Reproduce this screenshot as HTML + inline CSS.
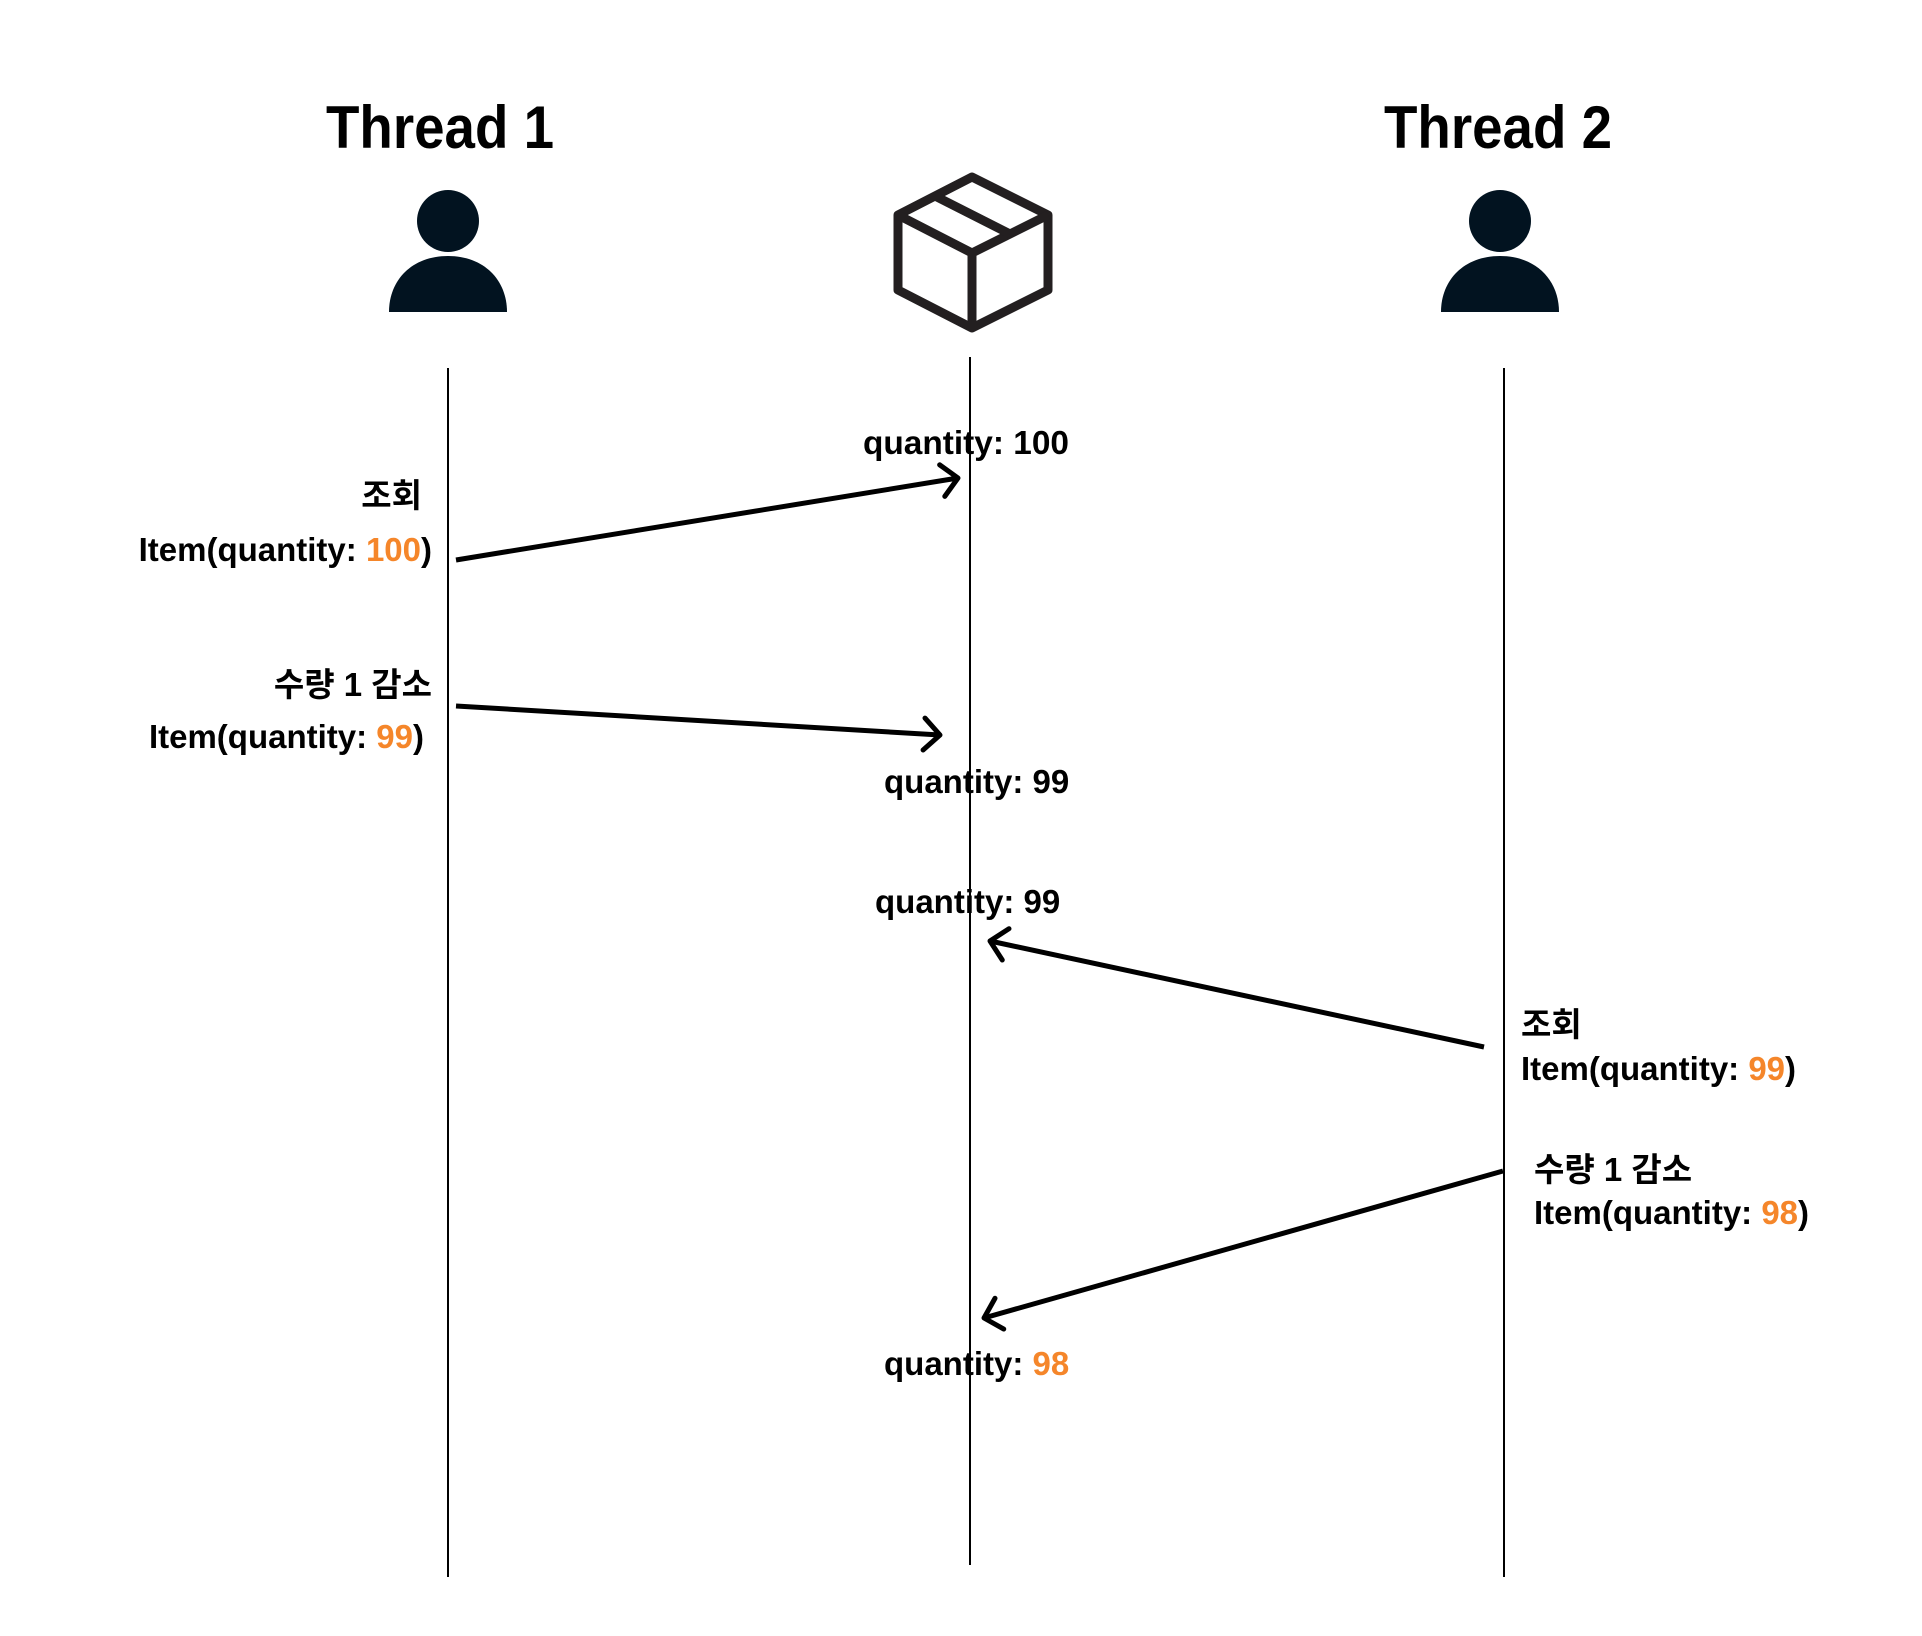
<!DOCTYPE html>
<html><head><meta charset="utf-8"><style>
html,body{margin:0;padding:0;background:#fff;}
svg{display:block;}
text{font-family:"Liberation Sans","Noto Sans CJK KR",sans-serif;font-weight:bold;fill:#000;}
.o{fill:#f5862a;}
</style></head><body>
<svg width="1922" height="1636" viewBox="0 0 1922 1636" xmlns="http://www.w3.org/2000/svg">
<text x="440" y="148" font-size="60" text-anchor="middle" textLength="228" lengthAdjust="spacingAndGlyphs">Thread 1</text>
<text x="1498" y="148" font-size="60" text-anchor="middle" textLength="228" lengthAdjust="spacingAndGlyphs">Thread 2</text>
<g fill="#021320">
<circle cx="448" cy="221" r="31"/>
<path d="M389 312 C389 280 412 256 448 256 C484 256 507 280 507 312 Z"/>
<circle cx="1500" cy="221" r="31"/>
<path d="M1441 312 C1441 280 1464 256 1500 256 C1536 256 1559 280 1559 312 Z"/>
</g>
<g fill="none" stroke="#231f20" stroke-width="9" stroke-linejoin="round">
<path d="M972 177 L1048 215 L1048 290 L972 328 L898 290 L898 215 Z"/>
<path d="M898 215 L972 253 L1048 215 M972 253 L972 328"/>
<path d="M935 196 L1010 234"/>
</g>
<g stroke="#000" stroke-width="2">
<line x1="448" y1="368" x2="448" y2="1577"/>
<line x1="970" y1="357" x2="970" y2="1565"/>
<line x1="1504" y1="368" x2="1504" y2="1577"/>
</g>
<defs>
<marker id="a" markerUnits="userSpaceOnUse" markerWidth="40" markerHeight="40" refX="20" refY="20" orient="auto">
<path d="M4 4 L20 20 L4 36" fill="none" stroke="#000" stroke-width="5" stroke-linecap="round" stroke-linejoin="round"/>
</marker>
</defs>
<g stroke="#000" stroke-width="5" marker-end="url(#a)">
<line x1="456" y1="560" x2="958" y2="478"/>
<line x1="456" y1="706" x2="940" y2="735"/>
<line x1="1484" y1="1047" x2="990" y2="941"/>
<line x1="1503" y1="1171" x2="984" y2="1318"/>
</g>
<g font-size="33">
<text x="863" y="454" textLength="206" lengthAdjust="spacingAndGlyphs">quantity: 100</text>
<text x="422" y="507" text-anchor="end">조회</text>
<text x="432" y="561" text-anchor="end">Item(quantity: <tspan class="o">100</tspan>)</text>
<text x="432" y="696" text-anchor="end">수량 1 감소</text>
<text x="424" y="748" text-anchor="end">Item(quantity: <tspan class="o">99</tspan>)</text>
<text x="884" y="793">quantity: 99</text>
<text x="875" y="913">quantity: 99</text>
<text x="1521" y="1036">조회</text>
<text x="1521" y="1080">Item(quantity: <tspan class="o">99</tspan>)</text>
<text x="1534" y="1181">수량 1 감소</text>
<text x="1534" y="1224">Item(quantity: <tspan class="o">98</tspan>)</text>
<text x="884" y="1375">quantity: <tspan class="o">98</tspan></text>
</g>
</svg>
</body></html>
